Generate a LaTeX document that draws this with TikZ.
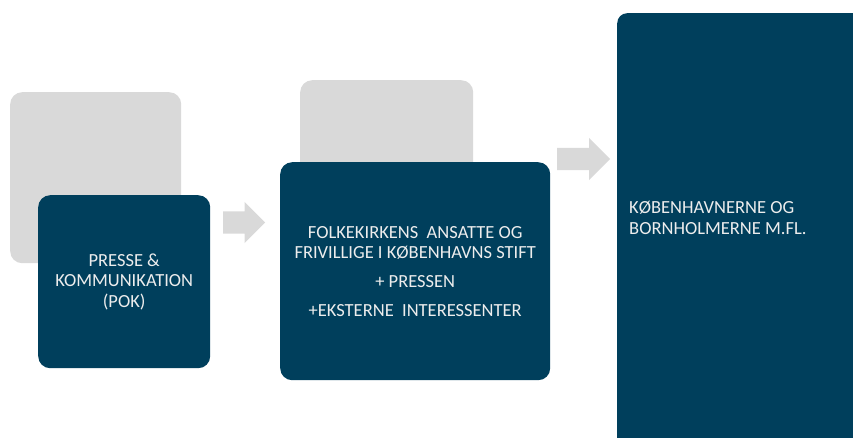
\documentclass[tikz,border=0pt]{standalone}
\usepackage{fontspec}
\setmainfont{Carlito}
\usetikzlibrary{positioning, shapes.arrows}
\definecolor{mork}{HTML}{003F5C}
\definecolor{graa}{HTML}{D9D9D9}
\definecolor{lystekst}{HTML}{EDEDED}
\tikzset{
    kasse/.style={
        rectangle, rounded corners=12pt,
        anchor=north west,
        inner sep=0pt
    },
    baggrund/.style={kasse, fill=graa},
    blok/.style={
        kasse, fill=mork,
        text=lystekst,
        align=center,
        font=\fontsize{18.5pt}{20.5pt}\selectfont
    },
    pil/.style={
        single arrow, fill=graa,
        anchor=tail,
        inner xsep=0pt, inner ysep=11pt,
        single arrow tip angle=90,
        single arrow head extend=10pt
    }
}

\begin{document}
\begin{tikzpicture}[x=1pt, y=-1pt]

    \useasboundingbox (0,0) rectangle (853,437);

    % graa baggrundskasser
    \node[baggrund, minimum width=171pt, minimum height=171pt] (bag1) at (10,92) {};
    \node[baggrund, minimum width=173pt, minimum height=100pt] (bag2) at (300,80) {};

    % moerke blokke
    \node[blok, minimum width=172pt, minimum height=173pt] (pok) at (38,195) {
        PRESSE \&\\
        KOMMUNIKATION\\
        (POK)
    };

    \node[blok, minimum width=270pt, minimum height=218pt] (ansatte) at (280,162) {
        FOLKEKIRKENS\ \ ANSATTE OG\\
        FRIVILLIGE I KØBENHAVNS STIFT\\[8.5pt]
        + PRESSEN\\[8pt]
        +EKSTERNE\ \ INTERESSENTER
    };

    \node[blok, rounded corners=10pt, minimum width=300pt, minimum height=470pt] (borgere) at (617,13) {};

    \node[font=\fontsize{18.5pt}{20.5pt}\selectfont, text=lystekst, align=left, anchor=west, inner sep=0pt]
        (borgertekst) at (629,218) {
        KØBENHAVNERNE OG\\
        BORNHOLMERNE M.FL.
    };

    % pile
    \node[pil, minimum height=42pt, single arrow head extend=9.5pt] (pil1) at (223,222.5) {};
    \node[pil, minimum height=53pt] (pil2) at (557,159) {};

\end{tikzpicture}
\end{document}
